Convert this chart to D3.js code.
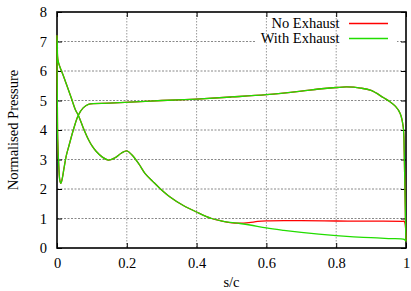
<!DOCTYPE html>
<html><head><meta charset="utf-8">
<script src="https://cdn.jsdelivr.net/npm/d3@7"></script>
<style>body{margin:0;background:#fff}svg{display:block}text{font-family:"Liberation Serif","Times New Roman",serif;fill:#000}</style>
</head><body><svg id="c" width="411" height="291"></svg>
<script>
// Shared surface (trailing edge -> leading edge), identical for both cases
const upperS = [1.0, 0.999, 0.995, 0.992, 0.983, 0.97, 0.954, 0.935, 0.9, 0.87, 0.83, 0.8, 0.75, 0.7, 0.6, 0.5, 0.4, 0.3, 0.238, 0.15, 0.09, 0.075, 0.061, 0.048, 0.035, 0.027, 0.02, 0.015, 0.011, 0.008, 0.005, 0.002, 0.001, 0.0];
const upperP = [0.22, 0.6, 3.2, 4.11, 4.57, 4.8, 4.96, 5.1, 5.34, 5.42, 5.46, 5.44, 5.39, 5.32, 5.2, 5.12, 5.05, 5.0, 4.96, 4.91, 4.87, 4.75, 4.5, 4.05, 3.5, 3.15, 2.7, 2.35, 2.19, 2.3, 2.8, 3.7, 5.0, 7.2];
// Shared part of the other surface (leading edge -> mid chord)
const lowerS = [0.0, 0.001, 0.003, 0.02, 0.04, 0.053, 0.061, 0.075, 0.09, 0.1, 0.112, 0.13, 0.147, 0.165, 0.185, 0.2, 0.215, 0.235, 0.252, 0.275, 0.295, 0.324, 0.362, 0.4, 0.443, 0.47];
const lowerP = [7.2, 6.9, 6.35, 5.78, 5.12, 4.68, 4.5, 4.08, 3.68, 3.47, 3.28, 3.08, 2.98, 3.05, 3.22, 3.29, 3.15, 2.84, 2.53, 2.25, 2.02, 1.73, 1.44, 1.22, 1.0, 0.92];
// Aft part, differing between cases
const noExhaustS = [0.496, 0.524, 0.55, 0.575, 0.6, 0.65, 0.7, 0.8, 0.9, 0.99, 0.995, 1.0];
const noExhaustP = [0.86, 0.84, 0.86, 0.9, 0.92, 0.93, 0.925, 0.915, 0.91, 0.905, 0.9, 0.22];
const withExhaustS = [0.496, 0.524, 0.553, 0.6, 0.65, 0.7, 0.75, 0.8, 0.85, 0.9, 0.95, 0.995, 1.0];
const withExhaustP = [0.87, 0.83, 0.78, 0.68, 0.6, 0.53, 0.47, 0.42, 0.38, 0.35, 0.32, 0.29, 0.22];

const seriesNames = ["No Exhaust", "With Exhaust"];
const seriesColors = ["#ff0000", "#22dd00"];
const xTicks = [0, 0.2, 0.4, 0.6, 0.8, 1];
const xTickLabels = ["0", "0.2", "0.4", "0.6", "0.8", "1"];
const yTicks = [0, 1, 2, 3, 4, 5, 6, 7, 8];

function build(tailS, tailP) {
  const pts = [];
  upperS.forEach((s, i) => pts.push([s, upperP[i]]));
  lowerS.forEach((s, i) => { if (i > 0) pts.push([s, lowerP[i]]); });
  tailS.forEach((s, i) => pts.push([s, tailP[i]]));
  return pts;
}
const series = [build(noExhaustS, noExhaustP), build(withExhaustS, withExhaustP)];

const L = 57, R = 406, T = 12, B = 248;
const x = d3.scaleLinear().domain([0, 1]).range([L, R]);
const y = d3.scaleLinear().domain([0, 8]).range([B, T]);
const svg = d3.select("#c");

// horizontal grid
svg.append("g").selectAll("line").data(yTicks.slice(1, -1)).join("line")
  .attr("x1", L).attr("x2", R).attr("y1", d => y(d)).attr("y2", d => y(d))
  .attr("stroke", "#888").attr("stroke-width", 1).attr("stroke-dasharray", "2,1.5");
// legend background (covers part of grid)
svg.append("rect").attr("x", 256).attr("y", 30).attr("width", 141).attr("height", 16).attr("fill", "#fff");
// vertical grid
svg.append("g").selectAll("line").data(xTicks.slice(1, -1)).join("line")
  .attr("x1", d => x(d)).attr("x2", d => x(d)).attr("y1", T).attr("y2", B)
  .attr("stroke", "#999").attr("stroke-width", 1).attr("stroke-dasharray", "1.5,1.5");

// frame
svg.append("rect").attr("x", L).attr("y", T).attr("width", R - L).attr("height", B - T)
  .attr("fill", "none").attr("stroke", "#000").attr("stroke-width", 1.6);

// axes with inward ticks, mirrored
const ax = svg.append("g");
ax.append("g").attr("transform", `translate(0,${B})`)
  .call(d3.axisBottom(x).tickValues(xTicks).tickFormat((d, i) => xTickLabels[i]).tickSize(-5).tickPadding(10))
  .call(g => g.select(".domain").remove());
ax.append("g").attr("transform", `translate(0,${T})`)
  .call(d3.axisTop(x).tickValues(xTicks).tickFormat("").tickSize(-5))
  .call(g => g.select(".domain").remove());
ax.append("g").attr("transform", `translate(${L},0)`)
  .call(d3.axisLeft(y).tickValues(yTicks).tickFormat(d3.format("d")).tickSize(-5).tickPadding(10))
  .call(g => g.select(".domain").remove());
ax.append("g").attr("transform", `translate(${R},0)`)
  .call(d3.axisRight(y).tickValues(yTicks).tickFormat("").tickSize(-5))
  .call(g => g.select(".domain").remove());
ax.selectAll(".tick line").attr("stroke", "#000").attr("stroke-width", 1);
ax.selectAll(".tick text").style("font-family", '"Liberation Serif",serif').style("font-size", "14.5px").attr("fill", "#000");

// curves
const line = d3.line().x(d => x(d[0])).y(d => y(d[1])).curve(d3.curveCatmullRom.alpha(0.5));
series.forEach((pts, i) => {
  svg.append("path").datum(pts).attr("d", line).attr("fill", "none")
    .attr("stroke", seriesColors[i]).attr("stroke-width", 1.3).attr("stroke-linejoin", "round");
});

// legend
seriesNames.forEach((n, i) => {
  const yy = 23.5 + i * 15;
  svg.append("text").attr("x", 339.5).attr("y", yy + 4.5).attr("text-anchor", "end")
    .style("font-size", "14.5px").text(n);
  svg.append("line").attr("x1", 349).attr("x2", 388).attr("y1", yy).attr("y2", yy)
    .attr("stroke", seriesColors[i]).attr("stroke-width", 1.3);
});

// axis titles
svg.append("text").attr("x", (L + R) / 2).attr("y", 287).attr("text-anchor", "middle")
  .style("font-size", "14.5px").text("s/c");
svg.append("text").attr("transform", `translate(18,${(T + B) / 2}) rotate(-90)`).attr("text-anchor", "middle")
  .style("font-size", "14.5px").text("Normalised Pressure");
</script></body></html>
